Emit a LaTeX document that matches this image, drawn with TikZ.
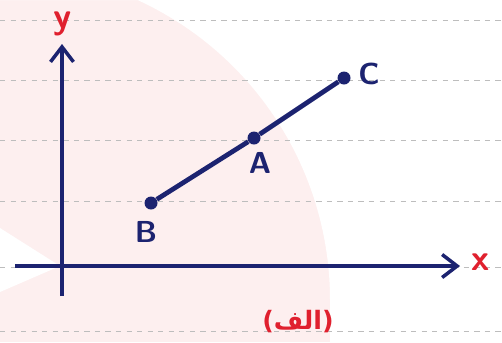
\documentclass[tikz,border=0pt]{standalone}
\usepackage{fontspec}
\usetikzlibrary{arrows.meta, positioning, calc}
\newfontfamily\arabicfont[Script=Arabic]{DejaVu Sans}
\TeXXeTstate=1
\definecolor{inkB}{HTML}{1C2370}
\definecolor{inkR}{HTML}{E0202E}
\definecolor{bgPink}{HTML}{FDEFEF}
\definecolor{ruleG}{HTML}{BDBDBD}
\tikzset{
  ruleline/.style={ruleG, dashed, thin},
  axis/.style={inkB, line width=1.9pt, -{Straight Barb[length=3mm,width=4.6mm,line width=2pt]}},
  seg/.style={inkB, line width=2.7pt},
  dotpt/.style={circle, fill=inkB, inner sep=0pt, minimum size=2.6mm},
  lbl/.style={text=inkB, font=\LARGE\sffamily\bfseries, inner sep=1pt},
  axlbl/.style={text=inkR, font=\huge\sffamily\bfseries, inner sep=1pt},
}
\begin{document}
\begin{tikzpicture}[x=0.02cm, y=-0.02cm]
\useasboundingbox (0,0) rectangle (502,342);

% faint watermark behind the sheet
\fill[bgPink] (0,0) rectangle (502,342);
\fill[white] (0,0) -- (502,0) -- (502,342) -- (330,342) -- (330,300)
  arc[start angle=0, end angle=-100, radius=330] -- cycle;
\fill[white] (0,228) -- (60,266) -- (0,292) -- cycle;

% notebook lines
\foreach \yy in {20,80,140,201,267,331}
  \draw[ruleline] (0,\yy) -- (502,\yy);

% axes
\coordinate (xs) at (15,266);
\coordinate (xe) at (460,266);
\coordinate (ys) at (62,296);
\coordinate (ye) at (62,44);
\draw[axis] (xs) -- (xe);
\draw[axis] (ys) -- (ye);
\node[axlbl] (xl) at (481,262) {x};
\node[axlbl] (yl) at (63,24) {y};

% segment B -- A -- C
\node[dotpt] (B) at (151,203) {};
\node[dotpt] (A) at (254,138) {};
\node[dotpt] (C) at (344,78) {};
\draw[seg] (B) -- (A) -- (C);
\node[lbl] (lB) at (146,232) {B};
\node[lbl] (lA) at (260,163) {A};
\node[lbl] (lC) at (369,74) {C};

% caption
\node[text=inkR, font=\Large\bfseries] (cap) at (298,322)
  {\arabicfont\beginR(الف)\endR};
\end{tikzpicture}
\end{document}
